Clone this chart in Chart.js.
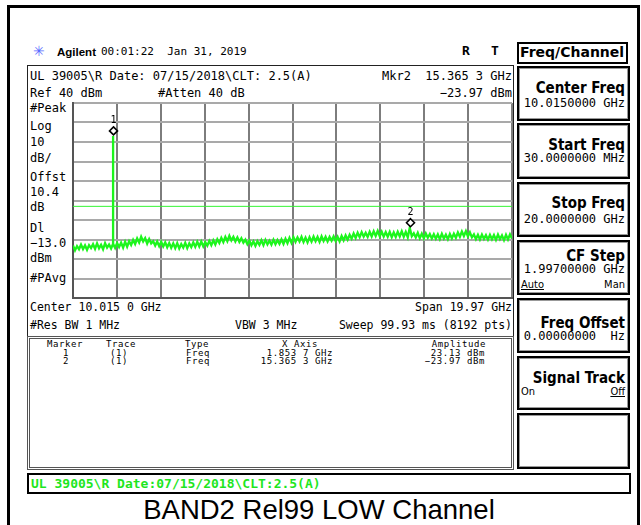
<!DOCTYPE html>
<html>
<head>
<meta charset="utf-8">
<script src="https://cdn.jsdelivr.net/npm/chart.js@4.4.1/dist/chart.umd.min.js"></script>
<style>
html, body { margin: 0; padding: 0; background: #fff; }
#page { position: relative; width: 641px; height: 525px; overflow: hidden; font-family: "DejaVu Sans Mono", monospace; font-size: 12px; color: #000; }
.t { position: absolute; white-space: pre; line-height: 14px; }
.box { position: absolute; box-sizing: border-box; }
.key { position: absolute; left: 517px; width: 113px; box-sizing: border-box; border: 2px solid #000; box-shadow: inset 0 0 0 1px #999; }
.kl { position: absolute; right: 3px; font-family: "DejaVu Sans Condensed", "DejaVu Sans", sans-serif; font-weight: bold; font-size: 15px; line-height: 16px; white-space: pre; }
.kv { position: absolute; right: 3px; font-size: 12px; line-height: 14px; white-space: pre; }
.ks { position: absolute; font-family: "DejaVu Sans Condensed", sans-serif; font-size: 11px; line-height: 12px; }
.tb { position: absolute; font-size: 9px; letter-spacing: 0.6px; line-height: 9px; white-space: pre; }
#plot { position: absolute; left: 71px; top: 101px; width: 443px; height: 199px; }
</style>
</head>
<body>
<div id="page">
  <!-- outer frame -->
  <div class="box" style="left:7px;top:5px;width:633px;height:540px;border:3px solid #000;"></div>

  <!-- header line -->
  <div class="t" style="left:33px;top:44px;color:#5a6cff;font-family:'DejaVu Sans';font-size:14px;">✳</div>
  <div class="t" style="left:57px;top:45px;font-family:'Liberation Sans',Arial;font-weight:bold;font-size:11.5px;">Agilent</div>
  <div class="t" style="left:101px;top:45px;font-size:11px;">00:01:22  Jan 31, 2019</div>
  <div class="t" style="left:462px;top:44px;font-weight:bold;font-size:13px;">R</div>
  <div class="t" style="left:491px;top:44px;font-weight:bold;font-size:13px;">T</div>
  <div class="box" style="left:517px;top:42px;width:111px;height:22px;border:2px solid #000;"></div>
  <div class="t" style="left:520px;top:44px;font-family:'DejaVu Sans';font-weight:bold;font-size:14px;line-height:16px;">Freq/Channel</div>

  <!-- main screen frame -->
  <div class="box" style="left:27px;top:65px;width:487px;height:275px;border-left:1px solid #222;border-top:1px solid #222;border-right:1px solid #222;"></div>

  <div class="t" style="left:30px;top:69px;">UL 39005\R Date: 07/15/2018\CLT: 2.5(A)</div>
  <div class="t" style="left:30px;top:86px;">Ref 40 dBm</div>
  <div class="t" style="left:158px;top:86px;">#Atten 40 dB</div>
  <div class="t" style="right:129px;top:69px;text-align:right;">Mkr2  15.365 3 GHz</div>
  <div class="t" style="right:129px;top:86px;text-align:right;">−23.97 dBm</div>

  <div class="t" style="left:30px;top:101px;">#Peak</div>
  <div class="t" style="left:30px;top:119px;">Log</div>
  <div class="t" style="left:30px;top:135px;">10</div>
  <div class="t" style="left:30px;top:151px;">dB/</div>
  <div class="t" style="left:30px;top:170px;">Offst</div>
  <div class="t" style="left:30px;top:185px;">10.4</div>
  <div class="t" style="left:30px;top:200px;">dB</div>
  <div class="t" style="left:30px;top:221px;">Dl</div>
  <div class="t" style="left:30px;top:236px;">−13.0</div>
  <div class="t" style="left:30px;top:251px;">dBm</div>
  <div class="t" style="left:30px;top:271px;">#PAvg</div>

  <div id="plot"><canvas id="sa"></canvas></div>

  <div class="t" style="left:30px;top:300px;font-size:11.5px;">Center 10.015 0 GHz</div>
  <div class="t" style="right:129px;top:300px;font-size:11.5px;">Span 19.97 GHz</div>
  <div class="t" style="left:30px;top:318px;font-size:11.5px;">#Res BW 1 MHz</div>
  <div class="t" style="left:235px;top:318px;font-size:11.5px;">VBW 3 MHz</div>
  <div class="t" style="right:129px;top:318px;font-size:11.5px;">Sweep 99.93 ms (8192 pts)</div>

  <!-- marker table -->
  <div class="box" style="left:27px;top:336px;width:487px;height:134px;border:3px double #555;"></div>
  <div class="tb" style="left:47px;top:340px;">Marker</div>
  <div class="tb" style="left:106px;top:340px;">Trace</div>
  <div class="tb" style="left:185px;top:340px;">Type</div>
  <div class="tb" style="left:282px;top:340px;">X Axis</div>
  <div class="tb" style="right:155px;top:340px;">Amplitude</div>
  <div class="tb" style="left:63px;top:348.5px;">1</div>
  <div class="tb" style="left:110px;top:348.5px;">(1)</div>
  <div class="tb" style="left:186px;top:348.5px;">Freq</div>
  <div class="tb" style="right:308px;top:348.5px;">1.853 7 GHz</div>
  <div class="tb" style="right:156px;top:348.5px;">23.13 dBm</div>
  <div class="tb" style="left:63px;top:357px;">2</div>
  <div class="tb" style="left:110px;top:357px;">(1)</div>
  <div class="tb" style="left:186px;top:357px;">Freq</div>
  <div class="tb" style="right:308px;top:357px;">15.365 3 GHz</div>
  <div class="tb" style="right:156px;top:357px;">−23.97 dBm</div>

  <!-- softkeys -->
  <div class="key" style="top:66px;height:55px;"><div class="kl" style="top:12px;">Center Freq</div><div class="kv" style="top:28px;">10.0150000 GHz</div></div>
  <div class="key" style="top:123px;height:56px;"><div class="kl" style="top:12px;">Start Freq</div><div class="kv" style="top:26px;">30.0000000 MHz</div></div>
  <div class="key" style="top:182px;height:55px;"><div class="kl" style="top:11px;">Stop Freq</div><div class="kv" style="top:28px;">20.0000000 GHz</div></div>
  <div class="key" style="top:240px;height:55px;"><div class="kl" style="top:6px;">CF Step</div><div class="kv" style="top:20px;">1.99700000 GHz</div>
    <div class="ks" style="left:2px;top:37px;text-decoration:underline;">Auto</div><div class="ks" style="right:3px;top:37px;">Man</div></div>
  <div class="key" style="top:298px;height:55px;"><div class="kl" style="top:15px;">Freq Offset</div><div class="kv" style="top:29px;">0.00000000  Hz</div></div>
  <div class="key" style="top:356px;height:54px;"><div class="kl" style="top:12px;">Signal Track</div>
    <div class="ks" style="left:2px;top:28px;">On</div><div class="ks" style="right:3px;top:28px;text-decoration:underline;">Off</div></div>
  <div class="key" style="top:413px;height:56px;"></div>

  <!-- status bar -->
  <div class="box" style="left:27px;top:473px;width:604px;height:21px;border:2px solid #000;"></div>
  <div class="t" style="left:31px;top:476px;color:#1ee61e;font-weight:bold;font-size:13px;line-height:15px;">UL 39005\R Date:07/15/2018\CLT:2.5(A)</div>

  <div class="t" style="left:0;width:638px;top:495px;text-align:center;font-family:'Liberation Sans',Arial,sans-serif;font-size:27.5px;line-height:30px;">BAND2 Rel99 LOW Channel</div>
</div>

<script>
// sweep settings
const sweepStartGHz = 0.03;
const sweepStopGHz = 20.0;
const refLevelDbm = 40;
const bottomDbm = -60;
const dbPerDiv = 10;
const displayLineDbm = -13.0;
const xGridGHz = [0.03, 2.027, 4.024, 6.021, 8.018, 10.015, 12.012, 14.009, 16.006, 18.003, 20.0];

// carrier and markers
const carrierGHz = 1.8537;
const carrierDbm = 23.13;
const markerLabels = ["1", "2"];
const markerFreqGHz = [1.8537, 15.3653];
const markerAmpDbm = [23.13, -23.97];

// noise floor (evenly spaced sweep points)
const noiseDbm = [
  -33.1, -35.6, -33.4, -35.0, -32.6, -34.9, -33.0, -35.3, -32.9, -34.4,
  -32.4, -34.8, -32.0, -34.5, -32.7, -35.0, -31.9, -34.2, -32.6, -34.6,
  -32.2, -34.3, -31.8, -33.9, -31.6, -34.2, -31.2, -33.7, -30.9, -32.8,
  -30.2, -32.3, -29.5, -31.6, -28.6, -31.0, -29.3, -32.1, -29.8, -32.0,
  -30.9, -33.1, -31.0, -33.4, -31.2, -33.6, -31.5, -34.0, -31.8, -34.3,
  -32.0, -34.5, -31.9, -34.6, -32.3, -34.2, -31.7, -34.4, -32.0, -33.9,
  -31.5, -33.8, -31.2, -33.6, -31.0, -33.5, -31.4, -33.2, -30.8, -32.9,
  -30.4, -32.6, -29.9, -31.8, -29.2, -31.3, -28.7, -30.9, -28.1, -30.5,
  -28.6, -31.0, -28.9, -31.2, -29.4, -31.6, -30.1, -32.4, -30.6, -33.0,
  -31.0, -33.3, -30.9, -32.8, -30.4, -32.9, -30.2, -32.5, -30.6, -32.7,
  -30.1, -32.4, -30.3, -32.2, -29.9, -32.3, -29.6, -31.9, -29.2, -31.7,
  -28.8, -31.2, -28.9, -31.0, -28.6, -31.3, -29.0, -31.5, -28.8, -31.1,
  -28.5, -30.9, -28.7, -31.2, -28.4, -30.8, -28.6, -31.0, -28.7, -30.6,
  -28.4, -30.8, -28.6, -31.0, -28.2, -30.4, -27.9, -30.1, -27.6, -29.6,
  -26.9, -29.2, -26.5, -28.8, -26.2, -28.5, -26.6, -28.7, -26.0, -28.4,
  -25.8, -28.2, -25.6, -28.3, -26.0, -28.5, -26.2, -28.6, -26.1, -28.8,
  -26.4, -28.7, -26.0, -28.4, -25.8, -28.6, -26.1, -28.9, -23.97, -28.3,
  -26.8, -29.0, -26.6, -29.3, -27.0, -29.4, -26.9, -29.1, -27.2, -29.5,
  -27.3, -29.6, -27.4, -29.8, -27.1, -29.5, -27.5, -29.9, -27.2, -29.4,
  -27.0, -29.1, -26.4, -28.6, -25.9, -28.2, -25.7, -28.4, -26.3, -28.9,
  -27.4, -29.8, -27.6, -30.0, -27.5, -29.7, -27.8, -30.1, -27.6, -29.9,
  -27.7, -30.2, -27.5, -29.8, -27.9, -30.3, -27.6, -30.0, -27.4, -29.5
];

// build trace points, carrier drawn as a vertical line
const step = (sweepStopGHz - sweepStartGHz) / (noiseDbm.length - 1);
const trace = [];
let carrierDone = false;
noiseDbm.forEach((v, i) => {
  const f = sweepStartGHz + i * step;
  if (!carrierDone && f >= carrierGHz - step / 2) {
    trace.push({ x: carrierGHz, y: v });
    trace.push({ x: carrierGHz, y: carrierDbm });
    trace.push({ x: carrierGHz, y: v });
    carrierDone = true;
  } else {
    trace.push({ x: f, y: v });
  }
});

// marker diamonds + numbers
const markerPlugin = {
  id: "markers",
  afterDatasetsDraw(chart) {
    const c = chart.ctx, xs = chart.scales.x, ys = chart.scales.y;
    c.save();
    markerFreqGHz.forEach((f, i) => {
      const px = Math.round(xs.getPixelForValue(f)) + 0.5;
      const py = ys.getPixelForValue(markerAmpDbm[i]) - 5;
      c.beginPath();
      c.moveTo(px, py - 4); c.lineTo(px + 4, py); c.lineTo(px, py + 4); c.lineTo(px - 4, py); c.closePath();
      c.fillStyle = "#fff"; c.fill();
      c.lineWidth = 1.6; c.strokeStyle = "#000"; c.stroke();
      c.fillStyle = "#000";
      c.font = "10px 'DejaVu Sans Mono'";
      c.textAlign = "center"; c.textBaseline = "middle";
      c.fillText(markerLabels[i], px, py - 10);
    });
    c.restore();
  }
};

new Chart(document.getElementById("sa"), {
  type: "line",
  data: {
    datasets: [
      { data: [{ x: sweepStartGHz, y: displayLineDbm }, { x: sweepStopGHz, y: displayLineDbm }],
        borderColor: "#33f533", borderWidth: 1, pointRadius: 0 },
      { data: trace, borderColor: "#1cf51c", borderWidth: 2.3, pointRadius: 0, tension: 0 }
    ]
  },
  options: {
    animation: false,
    responsive: true,
    maintainAspectRatio: false,
    layout: { padding: 2 },
    plugins: { legend: { display: false }, tooltip: { enabled: false } },
    scales: {
      x: {
        type: "linear", min: sweepStartGHz, max: sweepStopGHz,
        afterBuildTicks: s => { s.ticks = xGridGHz.map(v => ({ value: v })); },
        ticks: { display: false },
        grid: { color: "#7d7d7d", lineWidth: 2, drawTicks: false },
        border: { color: "#555", width: 2 }
      },
      y: {
        min: bottomDbm, max: refLevelDbm,
        ticks: { display: false, stepSize: dbPerDiv },
        grid: { color: "#a9a9a9", lineWidth: 2, drawTicks: false },
        border: { color: "#555", width: 2 }
      }
    }
  },
  plugins: [markerPlugin]
});
</script>
</body>
</html>
